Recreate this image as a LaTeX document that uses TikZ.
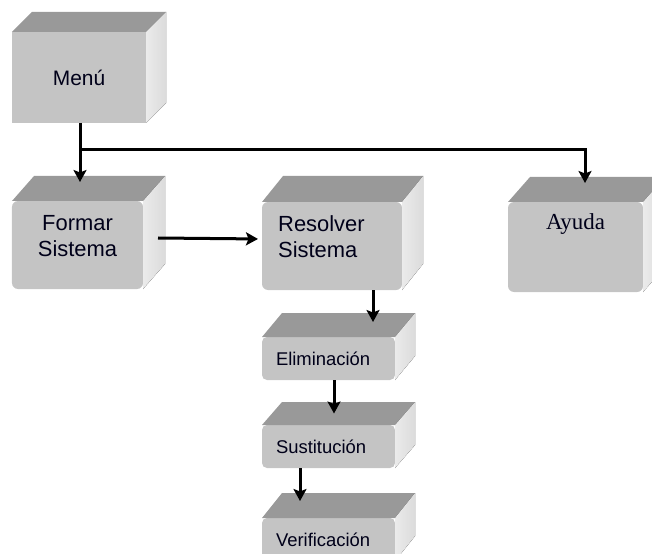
\documentclass[tikz,border=0pt]{standalone}
\usepackage{fontspec}
\setmainfont{Liberation Sans}
\newfontfamily\ayudafont{Liberation Serif}
\usetikzlibrary{arrows.meta}
\usetikzlibrary{positioning}
\tikzset{
every picture/.style={>={Stealth[length=12bp,width=13bp,inset=2.5bp]}},
%%%%%%%%%%  Node styles
front_face/.style={rectangle, fill=black!23, inner sep=0pt, outer sep=0pt,
                   text=black!90!blue},
menu_block/.style={front_face, minimum width=134bp, minimum height=91bp,
                   font=\fontsize{21}{25}\selectfont},
big_block/.style={front_face, rounded corners=6bp, minimum width=#1,
                  minimum height=88bp},
small_block/.style={front_face, rounded corners=5bp, minimum width=133bp,
                    minimum height=43bp, inner xsep=14bp, text width=105bp,
                    align=left, font=\fontsize{18.5}{21}\selectfont},
block_text/.style={inner sep=0pt, align=left, text=black!90!blue,
                   font=\fontsize{22}{26}\selectfont},
%%%%%%% Fill styles for the faces behind
top_face/.style={fill=black!40},
side_face/.style={left color=black!8, right color=black!14},
%%%%%%% line styles
plain_line/.style={line width=3bp},
flow/.style={plain_line, ->}
}
%% top and right faces of a block, #2 = depth to the right, #3 = depth upwards
\newcommand{\blockfaces}[3]{%
  \fill[top_face] (#1.north west) -- ++(#2,-#3) -- ([shift={(#2,-#3)}]#1.north east) -- (#1.north east) -- cycle;
  \fill[side_face] (#1.north east) -- ++(#2,-#3) -- ([shift={(#2,-#3)}]#1.south east) -- (#1.south east) -- cycle;
}

\begin{document}
\begin{tikzpicture}[x=1bp, y=-1bp]
\clip (0,0) rectangle (652,554);

%% blocks
\node[menu_block] (menu) at (79,77.5) {Menú};
\blockfaces{menu}{20}{20}

\node[big_block=131bp] (formar) at (77.5,245) {};
\blockfaces{formar}{22}{25}
\node[block_text, align=center] (formar_txt) at ([yshift=9bp]formar.center) {Formar\\Sistema};

\node[big_block=140bp] (resolver) at (332,246) {};
\blockfaces{resolver}{21}{26}
\node[block_text, anchor=west] (resolver_txt) at ([xshift=16bp, yshift=9bp]resolver.west) {Resolver\\Sistema};

\node[big_block=135bp, minimum height=90bp] (ayuda) at (575.5,247) {};
\blockfaces{ayuda}{22}{25}
\node[block_text, font=\ayudafont\fontsize{23}{26}\selectfont] (ayuda_txt) at ([yshift=23bp]ayuda.center) {Ayuda};

\node[small_block] (elim) at (328.5,358.5) {Eliminación};
\blockfaces{elim}{20}{24}
\node[small_block, below=45bp of elim] (sust) {Sustitución};
\blockfaces{sust}{20}{23}
\node[small_block, below=50bp of sust] (verif) {Verificación};
\blockfaces{verif}{20}{25}

%% connectors
\coordinate (split) at (80,150);
\coordinate (ayuda_in) at (585,150);
\draw[flow, shorten >=19bp] (menu.south -| split) -- (split) -- (ayuda_in) -- (ayuda_in |- ayuda.north);
\draw[flow, shorten >=19bp] (split) -- (split |- formar.north);

\draw[flow, shorten >=4bp] ([xshift=15bp, yshift=7bp]formar.east) -- ([yshift=7bp]resolver.west);

\coordinate (resolver_out) at ([xshift=41bp]resolver.south);
\draw[flow, shorten >=15bp] (resolver_out) -- (resolver_out |- elim.north);
\coordinate (elim_out) at ([xshift=5.5bp]elim.south);
\draw[flow, shorten >=11.5bp] (elim_out) -- (elim_out |- sust.north);
\coordinate (sust_out) at ([xshift=-28.5bp]sust.south);
\draw[flow, shorten >=17bp] (sust_out) -- (sust_out |- verif.north);

\end{tikzpicture}
\end{document}
